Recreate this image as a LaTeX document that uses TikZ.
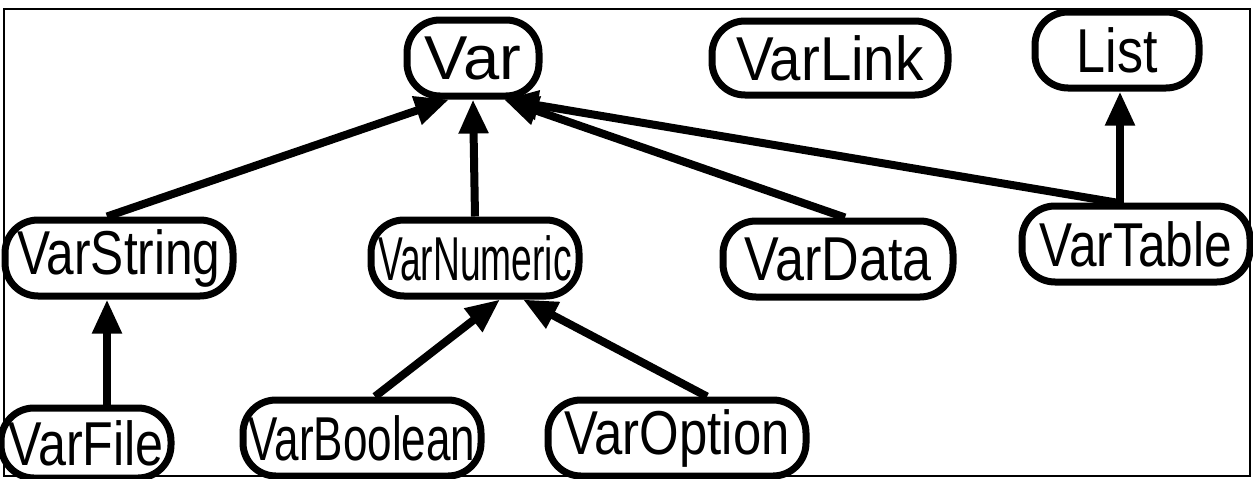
\documentclass[tikz,border=0pt]{standalone}
\usepackage{fontspec}
\setmainfont{Liberation Sans}
\usetikzlibrary{arrows.meta,calc}
\newcommand{\sqz}[2]{\scalebox{#1}[1]{#2}}
\begin{document}
\begin{tikzpicture}[x=1pt,y=-1pt,
  cls/.style={draw=black, line width=7pt, fill=white, rounded corners=33pt,
    inner sep=0pt, font=\fontsize{62}{64}\selectfont, text=black},
  inh/.style={line width=8pt, -{Triangle[length=34pt,width=28pt]}},
  frame/.style={draw=black, line width=1.5pt}]
\useasboundingbox (0,0) rectangle (1253,479);
\draw[frame] (4,9) rectangle (1250,476);
\node[cls, minimum width=132pt, minimum height=76pt] (Var) at (473,58) {\sqz{1.05}{Var}};
\node[cls, minimum width=236pt, minimum height=74pt] (VarLink) at (830,58) {\sqz{0.91}{VarLink}};
\node[cls, minimum width=164pt, minimum height=76pt] (List) at (1117,50) {\sqz{0.84}{List}};
\node[cls, minimum width=228pt, minimum height=76pt] (VarString) at (119,258) {\sqz{0.80}{VarString}};
\node[cls, minimum width=208pt, minimum height=76pt] (VarNumeric) at (475,258) {\sqz{0.60}{VarNumeric}};
\node[cls, minimum width=230pt, minimum height=76pt] (VarData) at (838,259) {\sqz{0.84}{VarData}};
\node[cls, minimum width=228pt, minimum height=76pt] (VarTable) at (1136,244) {\sqz{0.80}{VarTable}};
\node[cls, minimum width=170pt, minimum height=70pt] (VarFile) at (86,443) {\sqz{0.81}{VarFile}};
\node[cls, minimum width=238pt, minimum height=76pt] (VarBoolean) at (362,438) {\sqz{0.71}{VarBoolean}};
\node[cls, minimum width=258pt, minimum height=76pt] (VarOption) at (677,438) {\sqz{0.82}{VarOption}};
\draw[inh] ([xshift=-12pt]VarString.north) -- ([xshift=-24pt]Var.south);
\draw[inh] (VarNumeric.north) -- (Var.south);
\draw[inh] ([xshift=7pt]VarData.north) -- ([xshift=31pt]Var.south);
\draw[inh] ([xshift=-20pt]VarTable.north) -- ([xshift=31pt]Var.south);
\draw[inh] ([xshift=-16pt]VarTable.north) -- ([xshift=3pt]List.south);
\draw[inh] ([xshift=21pt]VarFile.north) -- ([xshift=-12pt]VarString.south);
\draw[inh] ([xshift=13pt]VarBoolean.north) -- ([xshift=25pt]VarNumeric.south);
\draw[inh] ([xshift=30pt]VarOption.north) -- ([xshift=48pt]VarNumeric.south);
\end{tikzpicture}
\end{document}
